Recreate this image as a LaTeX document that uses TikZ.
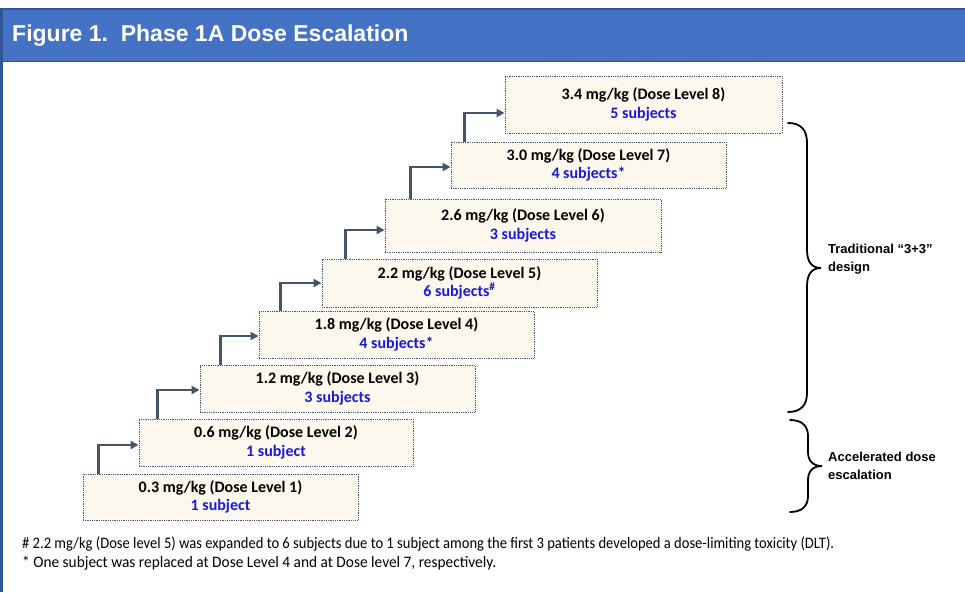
\documentclass[tikz,border=0pt]{standalone}
\usepackage{fontspec}
\usepackage{graphicx}
\setmainfont{Carlito}
\newfontfamily\arialfont{Liberation Sans}
\usetikzlibrary{arrows.meta,calc}
\definecolor{titleblue}{HTML}{4472C4}
\definecolor{titleedge}{HTML}{2F5597}
\definecolor{arrowc}{HTML}{44546A}
\definecolor{boxfill}{HTML}{FCF8EE}
\definecolor{subj}{RGB}{25,25,215}
\begin{document}
\begin{tikzpicture}[x=1pt,y=-1pt,
  dosebox/.style={draw=arrowc, dash pattern=on 0.9pt off 0.9pt, line width=0.9pt, fill=boxfill, inner sep=0pt, align=center, font=\fontsize{16}{18.5}\selectfont\bfseries},
  arr/.style={draw=arrowc, line width=2.4pt, -{Triangle[length=8pt,width=8pt]}},
  bracec/.style={draw=black, line width=1.8pt, line cap=round},
  side/.style={font=\arialfont\fontsize{13}{18}\selectfont\bfseries, align=left, anchor=west, inner sep=0pt},
  foot/.style={font=\fontsize{16}{16}\selectfont, anchor=base west, inner sep=0pt}]
\useasboundingbox (0,0) rectangle (965,592);
\fill[white] (0,0) rectangle (965,592);
% title bar
\fill[titleblue] (0,8) rectangle (965,62);
\draw[titleedge, line width=1.5pt] (0,8.75) -- (965,8.75);
\draw[titleedge, line width=1.5pt] (0,61.25) -- (965,61.25);
\fill[titleedge] (0,8) rectangle (2.5,592);
\node[anchor=west, text=white, inner sep=0pt, font=\arialfont\fontsize{23}{26}\selectfont\bfseries] (title) at (12,36) {Figure 1.\ \ Phase 1A Dose Escalation};
% dose boxes
\node[dosebox, minimum width=275pt, minimum height=46pt] (b1) at (220.5,497) {0.3 mg/kg (Dose Level 1)\\\textcolor{subj}{1 subject}};
\node[dosebox, minimum width=274pt, minimum height=47pt] (b2) at (276,442.5) {0.6 mg/kg (Dose Level 2)\\\textcolor{subj}{1 subject}};
\node[dosebox, minimum width=275pt, minimum height=47pt] (b3) at (337.5,388.5) {1.2 mg/kg (Dose Level 3)\\\textcolor{subj}{3 subjects}};
\node[dosebox, minimum width=275pt, minimum height=47pt] (b4) at (396.5,334.5) {1.8 mg/kg (Dose Level 4)\\\textcolor{subj}{4 subjects*}};
\node[dosebox, minimum width=275pt, minimum height=48pt] (b5) at (459.5,283) {2.2 mg/kg (Dose Level 5)\\\textcolor{subj}{6 subjects\textsuperscript{\#}}};
\node[dosebox, minimum width=276pt, minimum height=53pt] (b6) at (523,225.5) {2.6 mg/kg (Dose Level 6)\\\textcolor{subj}{3 subjects}};
\node[dosebox, minimum width=275pt, minimum height=46pt] (b7) at (588.5,165) {3.0 mg/kg (Dose Level 7)\\\textcolor{subj}{4 subjects*}};
\node[dosebox, minimum width=277pt, minimum height=57pt] (b8) at (643.5,104.5) {3.4 mg/kg (Dose Level 8)\\\textcolor{subj}{5 subjects}};
% step arrows
\draw[arr] ([xshift=16pt]b1.north west) |- ([yshift=-2.5pt]b2.west);
\draw[arr] ([xshift=19pt]b2.north west) |- ([yshift=-1.5pt]b3.west);
\draw[arr] ([xshift=21pt]b3.north west) |- ([yshift=-1.5pt]b4.west);
\draw[arr] ([xshift=22pt]b4.north west) |- (b5.west);
\draw[arr] ([xshift=24pt]b5.north west) |- ([yshift=-4.5pt]b6.west);
\draw[arr] ([xshift=26pt]b6.north west) |- ([yshift=-2pt]b7.west);
\draw[arr] ([xshift=14pt]b7.north west) |- ([yshift=-8.5pt]b8.west);
% braces
\coordinate (ut) at (788,123);
\coordinate (ub) at (788,412);
\coordinate (lt) at (790,420);
\coordinate (lb) at (790,512);
\draw[bracec] (ut) .. controls (801,123) and (807,130) .. (807,143) -- (807,250) .. controls (807,262) and (812,268) .. (821,268) .. controls (812,268) and (807,274) .. (807,286) -- (807,393) .. controls (807,405) and (801,412) .. (ub);
\draw[bracec] (lt) .. controls (802,420) and (808,426) .. (808,436) -- (808,452) .. controls (808,461) and (813,466) .. (822,466) .. controls (813,466) and (808,471) .. (808,480) -- (808,496) .. controls (808,506) and (802,512) .. (lb);
\node[side] (trad) at (828,259) {Traditional “3+3”\\design};
\node[side] (accel) at (828,466) {Accelerated dose\\escalation};
% footnotes
\node[foot] (fn1) at (22,548) {\resizebox{812pt}{\height}{\# 2.2 mg/kg (Dose level 5) was expanded to 6 subjects due to 1 subject among the first 3 patients developed a dose-limiting toxicity (DLT).}};
\node[foot] (fn2) at (22,567) {\resizebox{474pt}{\height}{* One subject was replaced at Dose Level 4 and at Dose level 7, respectively.}};
\end{tikzpicture}
\end{document}
